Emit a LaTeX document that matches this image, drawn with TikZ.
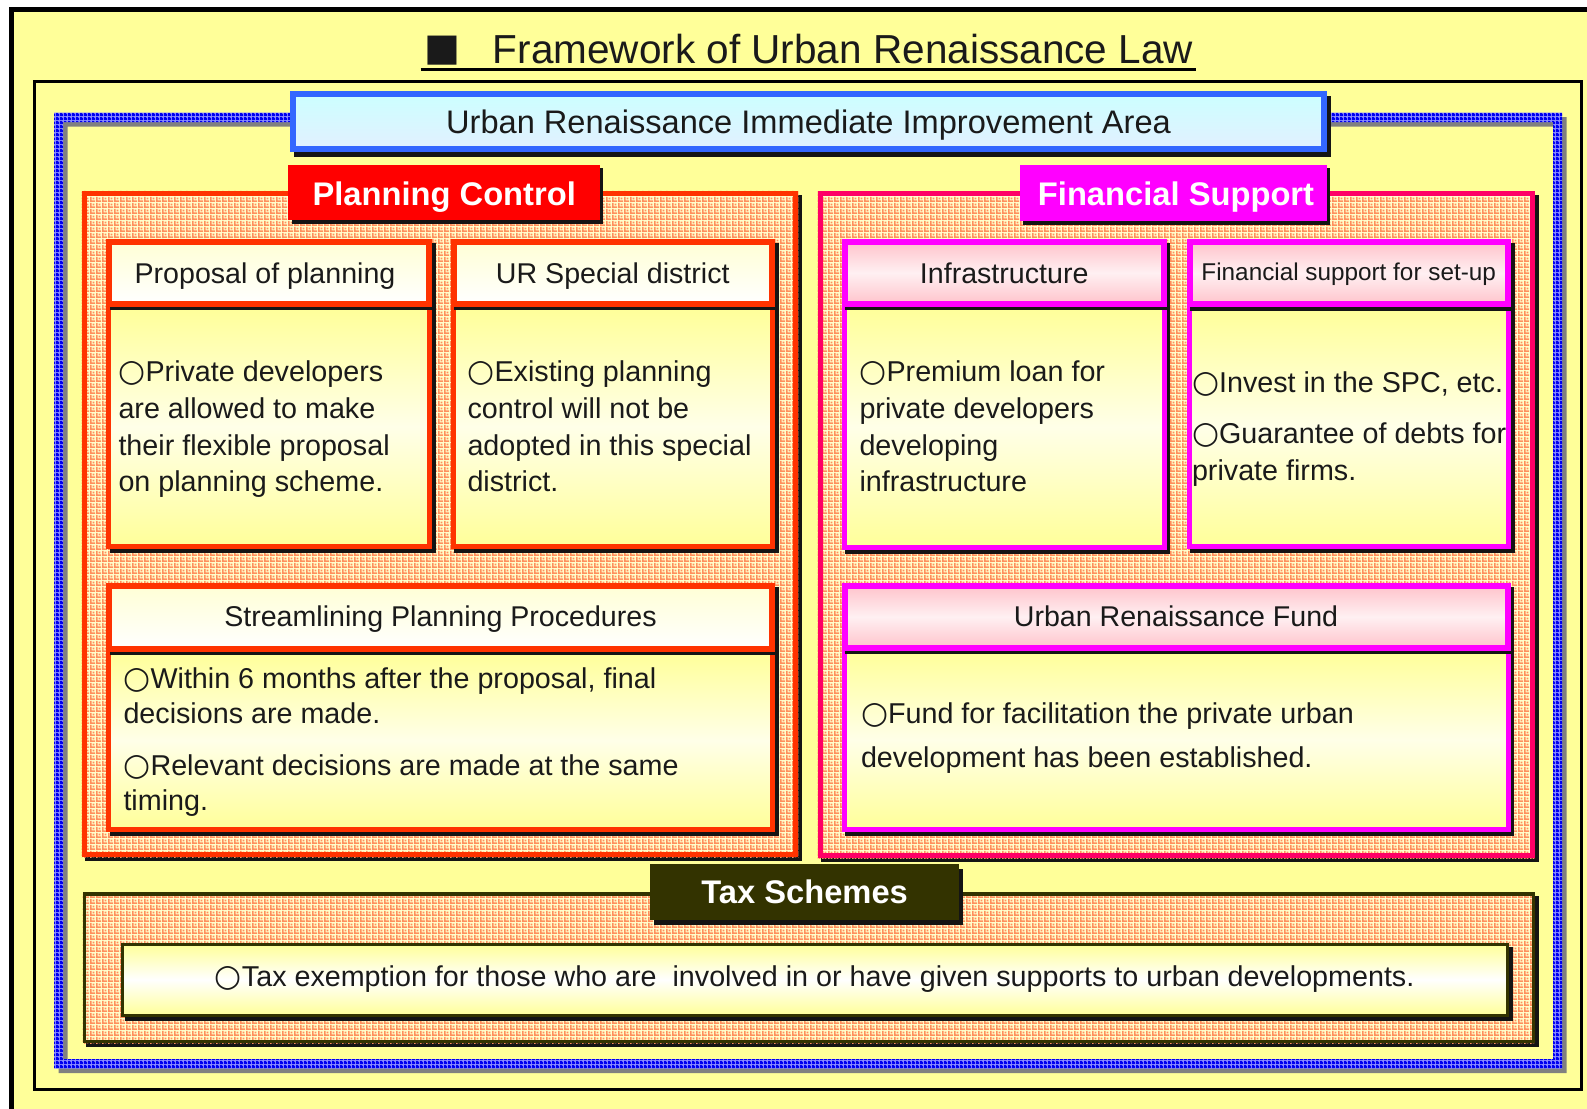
\documentclass[tikz,border=0pt]{standalone}
\usepackage{fontspec}
\setmainfont{Liberation Sans}
\newfontfamily\symf{DejaVu Sans}
\usetikzlibrary{patterns}

% orange lattice: 2px grid lines every 6px plus a 2px dot in each cell
\pgfdeclarepatternformonly{orchk}{\pgfqpoint{0pt}{0pt}}{\pgfqpoint{6pt}{6pt}}{\pgfqpoint{6pt}{6pt}}{%
  \pgfpathrectangle{\pgfqpoint{0pt}{0pt}}{\pgfqpoint{6pt}{2pt}}%
  \pgfpathrectangle{\pgfqpoint{0pt}{2pt}}{\pgfqpoint{2pt}{4pt}}%
  \pgfpathrectangle{\pgfqpoint{3pt}{3pt}}{\pgfqpoint{2pt}{2pt}}%
  \pgfusepath{fill}}
% blue band with small white holes
\pgfdeclarepatternformonly{bluchk}{\pgfqpoint{0pt}{0pt}}{\pgfqpoint{4pt}{4pt}}{\pgfqpoint{4pt}{4pt}}{%
  \pgfpathrectangle{\pgfqpoint{0pt}{0pt}}{\pgfqpoint{4pt}{2.5pt}}%
  \pgfpathrectangle{\pgfqpoint{0pt}{2.5pt}}{\pgfqpoint{2.5pt}{1.5pt}}%
  \pgfusepath{fill}}

\definecolor{bgyellow}{HTML}{FFFF99}
\definecolor{plred}{HTML}{FF3300}
\definecolor{tabred}{HTML}{FF0000}
\definecolor{fnpink}{HTML}{FF0066}
\definecolor{mgnt}{HTML}{FF00FF}
\definecolor{taxolive}{HTML}{333300}
\definecolor{urblue}{HTML}{3366FF}
\definecolor{shad}{HTML}{141414}
\definecolor{patbg}{HTML}{FFFFCC}
\definecolor{patfg}{HTML}{FF8F5C}
\definecolor{bodyY}{HTML}{FFFF99}
\definecolor{bodyW}{HTML}{FFFFE8}
\definecolor{hdrY}{HTML}{FFFFD6}
\definecolor{pinkA}{HTML}{FFC4CC}
\definecolor{pinkB}{HTML}{FFF0F2}
\definecolor{cyanA}{HTML}{CCFFFF}
\definecolor{cyanB}{HTML}{E2F0FF}
\definecolor{txt}{HTML}{1A1A1A}
\definecolor{grayshad}{HTML}{808080}
\definecolor{dotblue}{HTML}{0000F0}
\definecolor{bandbg}{HTML}{8C8CFF}

\newcommand\bul{{\fontsize{31}{34}\selectfont\symf ○}}

% panel: x1 y1 x2 y2 colour linewidth
\newcommand\mkpanel[6]{%
  \fill[shad] (#1+3.5,#2+4) rectangle (#3+3.5,#4+4);
  \fill[patbg] (#1,#2) rectangle (#3,#4);
  \fill[pattern=orchk, pattern color=patfg] (#1,#2) rectangle (#3,#4);
  \draw[#5, line width=#6] (#1+#6/2,#2+#6/2) rectangle (#3-#6/2,#4-#6/2);
}
% card: x1 y1 x2 y2 yheaderbottom colour headerstyle
\newcommand\mkcard[7]{%
  \fill[shad] (#1+3.5,#5) rectangle (#3+3.5,#4+4);
  \path[draw=#6, line width=5, top color=bodyY, bottom color=bodyY, middle color=bodyW]
     (#1+2.5,#5) rectangle (#3-2.5,#4-2.5);
  \fill[shad] (#1+3.5,#2+4) rectangle (#3+3.5,#5+3.5);
  \path[draw=#6, line width=6, #7] (#1+3,#2+3) rectangle (#3-3,#5-3);
}

\tikzset{
  every node/.style={inner sep=0pt, outer sep=0pt, text=txt},
  bodytxt/.style={font=\fontsize{28.7}{34}\selectfont, anchor=base west},
  hdrtxt/.style={font=\fontsize{28.6}{34}\selectfont, anchor=base},
  tabtxt/.style={font=\fontsize{32.7}{38}\selectfont\bfseries, text=white, anchor=base},
  orhdr/.style={top color=hdrY, bottom color=white},
  pkhdr/.style={top color=pinkA, bottom color=pinkA, middle color=pinkB},
}

\begin{document}
\begin{tikzpicture}[x=1pt, y=-1pt]
\useasboundingbox (0,0) rectangle (1587,1108);
\fill[white] (0,0) rectangle (1587,1108);
\begin{scope}
\clip (0,0) rectangle (1587,1108);

% outer frame
\path[fill=bgyellow, draw=black, line width=5] (11.7,10) rectangle (1620,1130);
% inner thin frame
\draw[black, line width=2.5] (34.7,81.7) rectangle (1581.7,1089.3);

% blue dotted band with grey shadow
\fill[grayshad, even odd rule] (58.5,117) rectangle (1566.5,1073) (67.5,126.5) rectangle (1557.5,1063.5);
\fill[bandbg, even odd rule] (54,112.5) rectangle (1562,1068.5) (63,122) rectangle (1553,1059);
\fill[pattern=bluchk, pattern color=dotblue, even odd rule] (54,112.5) rectangle (1562,1068.5) (63,122) rectangle (1553,1059);

% title
\node[font=\fontsize{40.5}{48}\selectfont, anchor=base east] (title) at (1193,63.3) {Framework of Urban Renaissance Law};
\node[font=\fontsize{38}{44}\selectfont\symf] (sq) at (442,51) {■};
\draw[black, line width=2.6] (420.7,69.7) -- (1195.7,69.7);

% panels
\mkpanel{81.7}{190.7}{798.3}{857}{plred}{5}
\mkpanel{817.5}{191}{1535}{858}{fnpink}{5}
\mkpanel{82.6}{892}{1535}{1043}{taxolive}{3.5}

% tabs
\fill[shad] (291.5,167.5) rectangle (603,223.5);
\fill[tabred] (288.3,164.5) rectangle (600,220);
\fill[shad] (1023,167.5) rectangle (1330,224.5);
\fill[mgnt] (1020,164.5) rectangle (1327,221);
\fill[shad] (653.5,868.5) rectangle (962.8,925);
\fill[taxolive] (650,864) rectangle (959.3,920);

\node[tabtxt] (pc) at (444.2,205) {Planning Control};
\node[tabtxt] (fs) at (1176,205) {Financial Support};
\node[tabtxt] (ts) at (804.6,903.3) {Tax Schemes};

% cards
\mkcard{106}{239.3}{432}{549.3}{306.7}{plred}{orhdr}
\mkcard{450.7}{239.3}{775}{549.3}{306.7}{plred}{orhdr}
\mkcard{106}{583.3}{775}{831.7}{651.7}{plred}{orhdr}
\mkcard{841.7}{239.3}{1166.7}{550}{306.5}{mgnt}{pkhdr}
\mkcard{1186.5}{239.3}{1511}{549}{307}{mgnt}{pkhdr}
\mkcard{841.7}{583.3}{1510.5}{832}{650.5}{mgnt}{pkhdr}

% tax text box
\fill[shad] (124.5,946.7) rectangle (1513,1020.5);
\path[draw=taxolive, line width=3, top color=bodyY, bottom color=bodyY, middle color=white] (122,944.2) rectangle (1507.5,1015);

% blue header box
\fill[shad] (294,96) rectangle (1331,156.7);
\path[draw=urblue, line width=6, top color=cyanA, bottom color=cyanB] (293,94) rectangle (1324,148.7);
\node[font=\fontsize{32.6}{38}\selectfont, anchor=base] (uria) at (808.5,133.3) {Urban Renaissance Immediate Improvement Area};

% card headers
\node[hdrtxt] (h1) at (265,283.3) {Proposal of planning};
\node[hdrtxt] (h2) at (612.8,283.3) {UR Special district};
\node[hdrtxt] (h3) at (440.5,626.5) {Streamlining Planning Procedures};
\node[hdrtxt] (h4) at (1004.2,283) {Infrastructure};
\node[font=\fontsize{24.3}{28}\selectfont, anchor=base] (h5) at (1348.7,280) {Financial support for set-up};
\node[hdrtxt] (h6) at (1176,626.5) {Urban Renaissance Fund};

% bodies
\node[bodytxt] (a1) at (118.5,381.7) {\bul Private developers};
\node[bodytxt] (a2) at (118.5,418.3) {are allowed to make};
\node[bodytxt] (a3) at (118.5,455) {their flexible proposal};
\node[bodytxt] (a4) at (118.5,491.7) {on planning scheme.};

\node[bodytxt] (b1) at (467.5,381.7) {\bul Existing planning};
\node[bodytxt] (b2) at (467.5,418.3) {control will not be};
\node[bodytxt] (b3) at (467.5,455) {adopted in this special};
\node[bodytxt] (b4) at (467.5,491.7) {district.};

\node[bodytxt] (c1) at (123.5,688.3) {\bul Within 6 months after the proposal, final};
\node[bodytxt] (c2) at (123.5,723.3) {decisions are made.};
\node[bodytxt] (c3) at (123.5,775) {\bul Relevant decisions are made at the same};
\node[bodytxt] (c4) at (123.5,810) {timing.};

\node[bodytxt] (d1) at (859.5,381.7) {\bul Premium loan for};
\node[bodytxt] (d2) at (859.5,418.3) {private developers};
\node[bodytxt] (d3) at (859.5,455) {developing};
\node[bodytxt] (d4) at (859.5,491) {infrastructure};

\node[bodytxt] (e1) at (1192,392.4) {\bul Invest in the SPC, etc.};
\node[bodytxt] (e2) at (1192,443) {\bul Guarantee of debts for};
\node[bodytxt] (e3) at (1192,480) {private firms.};

\node[bodytxt] (f1) at (861,723.6) {\bul Fund for facilitation the private urban};
\node[bodytxt] (f2) at (861,767) {development has been established.};

\node[font=\fontsize{28.7}{34}\selectfont, anchor=base] (t1) at (814.7,986) {\bul Tax exemption for those who are~ involved in or have given supports to urban developments.};
\end{scope}
\end{tikzpicture}
\end{document}
